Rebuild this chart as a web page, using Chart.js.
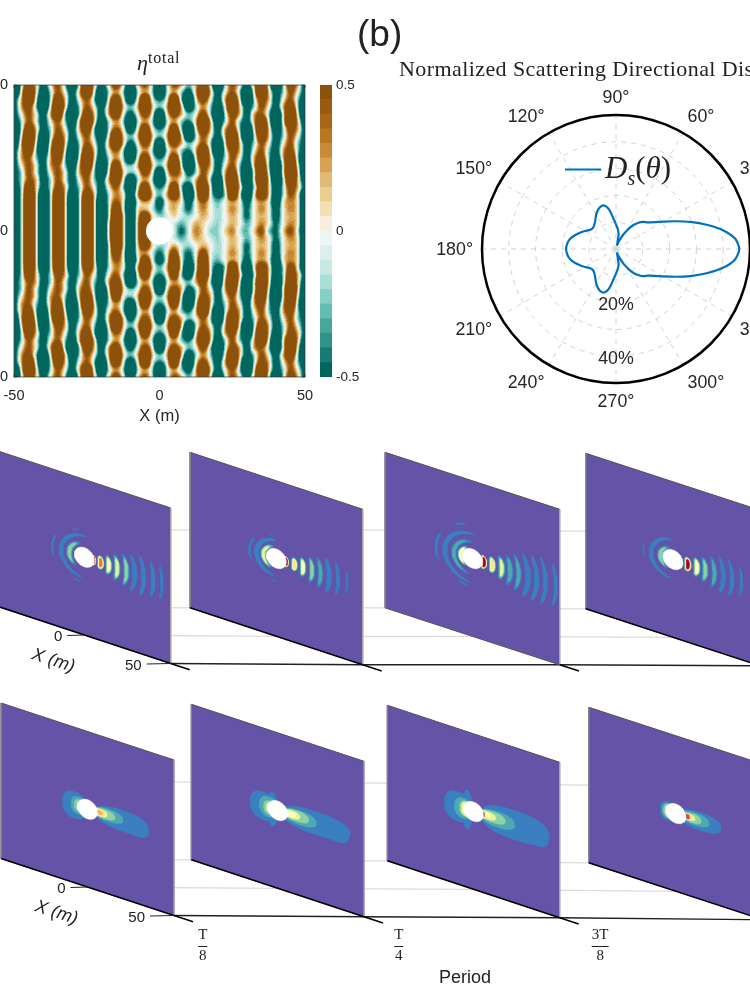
<!DOCTYPE html>
<html>
<head>
<meta charset="utf-8">
<title>Scattering</title>
<script src="https://cdn.jsdelivr.net/npm/chart.js@4/dist/chart.umd.js"></script>
<style>
html, body { margin: 0; background: #fff; }
#page { position: relative; width: 750px; height: 1000px; overflow: hidden; background: #fff; }
#page canvas { position: absolute; }
.t { position: absolute; white-space: nowrap; color: #222; }
</style>
</head>
<body>
<div id="page">
  <canvas id="heat" width="360" height="360" style="left:-40px;top:70px"></canvas>
  <canvas id="bar" width="60" height="320" style="left:310px;top:70px"></canvas>
  <canvas id="polar" width="440" height="400" style="left:396px;top:50px"></canvas>
  <canvas id="panels" width="750" height="570" style="left:0;top:430px"></canvas>
  <div class="t" style="left:357px;top:13px;font:37px 'Liberation Sans'">(b)</div>
  <div class="t" style="left:137px;top:50px;font:italic 22px 'Liberation Serif'">η<span style="font:normal 16px 'Liberation Serif';letter-spacing:.8px;position:relative;top:-7px">total</span></div>
  <div class="t" style="left:399px;top:56px;font:22px 'Liberation Serif';letter-spacing:.42px">Normalized Scattering Directional Distribution</div>
  <div class="t" style="left:605px;top:150px;font:italic 31px 'Liberation Serif'">D<sub style="font-size:20px;line-height:0">s</sub><span style="font-style:normal">(</span>θ<span style="font-style:normal">)</span></div>
  <div class="t" style="left:439px;top:967px;font:18px 'Liberation Sans'">Period</div>
</div>
<script>
// Campo de superficie: décimas de metro, filas de Y = 50 a Y = -50, columnas de X = -50 a X = 50 (paso 2.5 m).
const etaTenths = [
[-15,-2,10,2,-7,0,5,-2,-13,0,15,2,-7,0,7,0,-10,0,5,-2,-13,-2,5,2,-3,2,10,0,-15,-2,5,0,-7,2,15,0,-15,-2,7,2,-7],
[-15,0,15,2,-10,-2,5,0,-7,2,13,0,-13,-2,3,-2,-15,-2,3,-2,-15,-2,3,-2,-7,2,15,2,-7,0,5,-2,-15,0,15,2,-7,-2,5,0,-7],
[-7,2,13,0,-15,-2,10,2,-7,0,5,-2,-15,0,10,0,-10,0,13,0,-5,0,13,-2,-15,0,7,0,-7,2,13,0,-15,-2,7,2,-7,0,5,-2,-10],
[-7,2,7,-2,-13,0,15,2,-10,-2,5,0,-7,2,15,2,-3,2,15,2,-3,2,15,2,-10,-2,3,-2,-10,0,15,2,-7,-2,5,0,-7,2,10,-2,-15],
[-7,0,5,0,-7,2,13,-2,-15,-2,10,2,-7,2,10,0,-7,0,7,0,-13,0,7,2,-3,0,7,-2,-15,-2,7,2,-7,2,5,-2,-13,0,15,0,-15],
[-10,-2,5,0,-7,0,5,-2,-10,2,15,2,-10,-2,3,-2,-15,-2,3,-2,-15,-2,3,-2,-5,2,15,2,-10,-2,5,-2,-7,2,13,0,-15,0,13,2,-10],
[-15,-2,10,2,-7,-2,5,0,-7,2,10,-2,-15,-2,5,0,-10,0,10,0,-5,0,10,-2,-15,0,10,2,-7,2,7,-2,-15,0,15,2,-10,-2,7,2,-7],
[-15,0,15,2,-13,-2,7,2,-7,0,5,-2,-10,0,15,2,-3,2,15,2,-3,2,15,2,-13,-2,5,0,-7,2,15,0,-15,-2,10,2,-7,-2,5,0,-7],
[-13,2,15,0,-15,0,13,2,-10,-2,5,0,-7,2,13,2,-7,0,7,0,-13,0,7,2,-3,0,5,-2,-15,0,15,2,-7,-2,5,0,-7,0,5,-2,-7],
[-7,2,10,-2,-13,2,15,0,-15,-2,10,2,-7,0,5,-2,-15,-2,3,-2,-15,-2,3,-2,-5,2,13,0,-15,-2,7,2,-7,0,5,-2,-7,2,7,-2,-10],
[-7,2,5,-2,-7,2,10,-2,-15,0,15,2,-10,-2,3,-2,-13,0,10,0,-5,0,10,-2,-13,0,15,2,-7,-2,5,0,-7,2,7,-2,-10,2,13,-2,-15],
[-7,0,5,0,-7,2,5,-2,-10,2,13,0,-15,-2,10,0,-3,2,15,2,-3,2,15,0,-15,-2,7,2,-7,0,5,-2,-10,2,13,-2,-15,0,15,0,-15],
[-7,-2,5,0,-7,0,5,0,-7,2,7,-2,-13,0,15,2,-3,0,7,0,-13,0,7,2,-7,-2,5,0,-7,2,10,-2,-15,0,15,0,-15,0,15,2,-15],
[-7,-2,5,2,-7,-2,5,0,-7,0,5,-2,-7,2,10,0,-13,-2,3,-2,-15,-2,3,0,-3,2,7,-2,-13,2,15,0,-15,0,15,2,-13,-2,13,2,-10],
[-10,-2,10,2,-7,-2,7,2,-7,-2,5,0,-7,0,5,-2,-15,0,10,0,-5,0,10,-2,-10,2,13,0,-13,0,13,2,-10,-2,10,2,-10,-2,7,2,-7],
[-13,-2,13,2,-13,-2,13,2,-13,-2,10,2,-10,-2,3,0,-10,2,15,2,-3,2,10,0,-13,0,15,0,-7,-2,13,0,-13,0,10,2,-10,-2,5,0,-13],
[-13,-2,15,2,-15,-2,15,2,-15,-2,15,2,-15,-2,5,0,-13,-1,3,0,-7,0,3,0,-7,0,5,0,-3,0,3,0,-7,0,3,0,-10,0,3,0,-13],
[-13,-2,15,2,-15,-2,15,2,-15,-2,15,2,-15,-2,10,0,-13,0,2,-1,-5,0,2,-1,-5,0,3,0,-2,0,3,0,-5,0,3,0,-7,0,3,0,-13],
[-13,-2,15,2,-15,-2,15,2,-15,-2,15,2,-15,-2,15,2,-13,1,10,1,-2,-1,1,-1,-2,0,2,0,-2,0,2,0,-5,0,2,0,-7,0,2,0,-13],
[-13,-2,15,2,-15,-2,15,2,-15,-2,15,2,-15,0,15,2,-13,2,15,0,0,0,-1,-3,-1,2,1,-1,-2,0,2,0,-3,0,3,0,-5,0,3,0,-13],
[-13,-2,15,2,-15,-2,15,2,-15,-2,15,2,-15,0,15,2,-13,2,15,0,0,0,-1,-5,-1,3,1,-2,-2,1,3,-1,-3,1,5,-2,-5,1,5,-1,-13],
[-13,-2,15,2,-15,-2,15,2,-15,-2,15,2,-15,0,15,2,-13,2,15,0,0,0,-1,-3,-1,2,1,-1,-2,0,2,0,-3,0,3,0,-5,0,3,0,-13],
[-13,-2,15,2,-15,-2,15,2,-15,-2,15,2,-15,-2,15,2,-13,1,10,1,-2,-1,2,-1,-2,0,2,0,-2,0,2,0,-5,0,2,0,-7,0,2,0,-13],
[-13,-2,15,2,-15,-2,15,2,-15,-2,15,2,-15,-2,10,0,-13,0,3,-1,-5,0,7,-1,-5,0,7,0,-2,0,3,0,-5,0,3,0,-7,0,3,0,-13],
[-13,-2,15,2,-15,-2,15,2,-15,-2,15,2,-15,-2,5,0,-13,-1,10,0,-7,0,13,0,-7,0,13,0,-3,0,3,0,-7,0,3,0,-10,0,3,0,-13],
[-13,-2,13,2,-13,-2,13,2,-13,-2,10,2,-10,-2,3,0,-10,2,15,2,-3,2,13,0,-13,0,15,0,-7,-2,13,0,-13,0,10,2,-10,-2,7,0,-13],
[-10,-2,10,2,-7,-2,7,2,-7,-2,5,0,-7,0,5,-2,-15,0,10,0,-5,0,10,-2,-10,2,13,0,-13,0,13,2,-10,-2,13,2,-10,-2,10,2,-7],
[-7,-2,5,2,-7,-2,5,0,-7,0,5,-2,-7,2,10,0,-13,-2,3,-2,-15,-2,3,0,-3,2,7,-2,-13,2,15,0,-15,0,15,2,-13,-2,13,2,-10],
[-7,-2,5,0,-7,0,5,0,-7,2,7,-2,-13,0,15,2,-3,0,7,0,-13,0,7,2,-7,-2,5,0,-7,2,10,-2,-15,0,15,0,-15,0,15,2,-15],
[-7,0,5,0,-7,2,5,-2,-10,2,13,0,-15,-2,10,0,-3,2,15,2,-3,2,15,0,-15,-2,7,2,-7,0,5,-2,-10,2,13,-2,-15,0,15,0,-15],
[-7,2,5,-2,-7,2,10,-2,-15,0,15,2,-10,-2,3,-2,-13,0,10,0,-5,0,10,-2,-13,0,15,2,-7,-2,5,0,-7,2,7,-2,-10,2,13,-2,-15],
[-7,2,10,-2,-13,2,15,0,-15,-2,10,2,-7,0,5,-2,-15,-2,3,-2,-15,-2,3,-2,-5,2,13,0,-15,-2,7,2,-7,0,5,-2,-7,2,7,-2,-10],
[-13,2,15,0,-15,0,13,2,-10,-2,5,0,-7,2,13,2,-7,0,7,0,-13,0,7,2,-3,0,5,-2,-15,0,15,2,-7,-2,5,0,-7,0,5,-2,-7],
[-15,0,15,2,-13,-2,7,2,-7,0,5,-2,-10,0,15,2,-3,2,15,2,-3,2,15,2,-13,-2,5,0,-7,2,15,0,-15,-2,10,2,-7,-2,5,0,-7],
[-15,-2,10,2,-7,-2,5,0,-7,2,10,-2,-15,-2,5,0,-10,0,10,0,-5,0,10,-2,-15,0,10,2,-7,2,7,-2,-15,0,15,2,-10,-2,7,2,-7],
[-10,-2,5,0,-7,0,5,-2,-10,2,15,2,-10,-2,3,-2,-15,-2,3,-2,-15,-2,3,-2,-5,2,15,2,-10,-2,5,-2,-7,2,13,0,-15,0,13,2,-10],
[-7,0,5,0,-7,2,13,-2,-15,-2,10,2,-7,2,10,0,-7,0,7,0,-13,0,7,2,-3,0,7,-2,-15,-2,7,2,-7,2,5,-2,-13,0,15,0,-15],
[-7,2,7,-2,-13,0,15,2,-10,-2,5,0,-7,2,15,2,-3,2,15,2,-3,2,15,2,-10,-2,3,-2,-10,0,15,2,-7,-2,5,0,-7,2,10,-2,-15],
[-7,2,13,0,-15,-2,10,2,-7,0,5,-2,-15,0,10,0,-10,0,13,0,-5,0,13,-2,-15,0,7,0,-7,2,13,0,-15,-2,7,2,-7,0,5,-2,-10],
[-15,0,15,2,-10,-2,5,0,-7,2,13,0,-13,-2,3,-2,-15,-2,3,-2,-15,-2,3,-2,-7,2,15,2,-7,0,5,-2,-15,0,15,2,-7,-2,5,0,-7],
[-15,-2,10,2,-7,0,5,-2,-13,0,15,2,-7,0,7,0,-10,0,5,-2,-13,-2,5,2,-3,2,10,0,-15,-2,5,0,-7,2,15,0,-15,-2,7,2,-7]
];
const axisTicks = [-50, 0, 50];
const cylinderRadius = 4.65;

// Bandas de la barra de color, de -0.5 a 0.5.
const bandEdges = [-0.5,-0.45,-0.4,-0.35,-0.3,-0.25,-0.2,-0.15,-0.1,-0.05,0,0.05,0.1,0.15,0.2,0.25,0.3,0.35,0.4,0.45,0.5];
const bandColors = ['#01665E','#177D74','#2E9389','#47A79A','#64BDB0','#85D0C4','#A8DFD7','#C7E9E4','#DCEFED','#EFF4F4',
    '#F6EFDF','#F2E0B5','#E9CE90','#DFBB74','#D6A354','#C78A35','#B9771F','#A86616','#9A5B10','#8C510A'];
const barTicks = [-0.5, 0, 0.5];

// Distribución direccional en %, cada 5 grados, en sentido horario desde 90°.
const polarRadius = [9.2,7.5,5.6,1.6,2.9,5.2,7.8,10.6,12.7,14.3,15.5,17.5,20.5,24.5,29.5,35,40.5,44.6,46,
    44.6,40.5,35,29.5,24.5,20.5,17.5,15.5,14.3,12.7,10.6,7.8,5.2,2.9,1.6,5.6,7.5,9.2,
    11.5,15,16.8,16.8,16,14.8,13.4,12.4,11.8,11.7,12.3,13.4,14.6,15.8,17,17.9,18.4,18.6,
    18.4,17.9,17,15.8,14.6,13.4,12.3,11.7,11.8,12.4,13.4,14.8,16,16.8,16.8,15,11.5];
const polarAngles = [90,60,30,0,330,300,270,240,210,180,150,120];
const polarPercents = [20, 40];

// Frentes de onda por instante: [radio m, desde °, hasta °, nivel, semiancho m].
const ripplesT0 = [[5.8,-35,35,9,1],[9.6,-28,28,8,2],[14.3,-26,26,5,1.9],[19.2,-26,26,4,1.8],[24.5,-25,25,3,1.6],[29.3,-24,24,1,1.3],[34.5,-22,22,1,1.2],[40,-17,17,1,1.1],[45,-14,14,1,.8],
    [8.7,105,235,3,1.8],[13.5,85,265,1,1.2],[18.5,152,198,1,.6],[17,100,115,1,.4],[16.5,250,262,1,.4]];
const ripplesT1 = [[6,-35,35,10,1.3],[10.6,-25,25,6,2],[15.6,-24,24,5,1.8],[20.8,-24,24,3,1.6],[25.7,-23,23,2,1.4],[30.7,-22,22,1,1.3],[35.9,-17,17,1,1],[41,-10,10,1,.6],
    [7.5,100,250,4,1.7],[11.5,90,265,1,1.3],[15.5,145,205,1,.6],[15,95,105,1,.4],[15,258,270,1,.4]];
const ripplesT2 = [[7,-40,40,10,1.5],[11.6,-28,28,6,2],[17,-27,27,4,1.9],[21.8,-27,27,2,1.7],[26.6,-26,26,2,1.5],[32,-26,26,1,1.4],[36.9,-24,24,1,1.3],[42,-21,21,1,1.2],[47.9,-17,17,1,1],
    [6.8,110,240,5,1.6],[10.6,90,260,2,1.5],[15.8,85,265,1,1.3],[20.7,150,205,1,.7],[21,100,118,1,.6],[18.5,245,262,1,.6]];
const ripplesT3 = [[8.7,-32,32,10,2],[13.9,-27,27,5,2],[18.7,-26,26,3,1.7],[23.9,-25,25,2,1.5],[29,-24,24,1,1.3],[34,-20,20,1,1.1],[39.4,-14,14,1,.7],
    [7.3,105,245,3,1.7],[12.5,90,265,1,1.2],[17,165,195,1,.3]];

// Contornos medios por instante: [nivel, X, Y, radio X, radio Y].
const blobsT0 = [[1,20,0,15,6.8],[1,28,-1.5,7.5,5.5],[1,-7.5,0,7,8.5],[2,12,.5,8.5,4],[2,-5,.5,4.5,5.5],[3,10,.5,6,3],[3,-4.5,.5,3,4],[4,7.5,.5,4,2.4],[4,-4,.5,2,2.5],[6,7,.5,2.4,1.7],[7,7,.5,1.6,1.2]];
const blobsT1 = [[1,22,0,20,7.5],[1,34,-2,7,5.5],[1,-8,0,8,9],[1,-3,0,2.5,11],[2,13,0,9.5,4.5],[2,-5,.5,5.5,6.5],[3,11,.5,7,3.5],[3,-4.5,0,3.5,4.5],[4,8,.5,5,2.5],[4,-4.5,0,2,3],[5,7.5,.5,3,1.8]];
const blobsT2 = [[1,24,0,20,9.5],[1,37,-2,6.5,6.5],[1,-9,0,8,9.5],[1,-3.5,0,2.5,12.5],[2,14,0,10,5],[2,-6,0,5,6.5],[3,11,.5,7.5,3.5],[3,-4.5,0,3.5,5],[4,8,.5,5,2.5],[4,-4,0,3,4.5],[5,6.8,.5,3,1.5],[9,5.6,.3,1,1.5]];
const blobsT3 = [[1,14,0,12,5.8],[1,-4.5,0,4.5,6],[2,11,.5,8,4],[2,-4,0,4,5],[3,9.5,.5,5,3],[3,-4,0,3,4.5],[4,8,.5,3,2],[4,-4,0,2,3.5],[6,7,.5,1.8,1.8],[9,6.6,.5,1.2,1.4]];

const rippleRows = [ripplesT0, ripplesT1, ripplesT2, ripplesT3];
const blobRows = [blobsT0, blobsT1, blobsT2, blobsT3];
const spectral = ['#5E4FA2','#3A7FC0','#4FA9B0','#8ED1A5','#E6F598','#FFFFBF','#FEE08B','#FDAE61','#F46D43','#D53E4F','#9E0142'];

// Geometría de cada plano inclinado por fila y columna.
const planeLeft = [[-2,190,385,585.7],[1,191.3,387.3,588.7]];
const planeTop = [[451,452.3,452.3,453.3],[703,704.3,705.3,707.3]];
const planeWidth = [[172.7,172.7,174.7,174.5],[173,172.7,172.4,174.5]];
const planeShear = 57;
const planeHeight = 155.5;

const xTickValues = [0, 50];
const periodTop = ['T','T','3T'];
const periodBottom = ['8','4','8'];

Chart.defaults.font.family = "'Liberation Sans'";
Chart.defaults.color = '#262626';
Chart.defaults.animation = false;
Chart.defaults.devicePixelRatio = 1;
Chart.defaults.responsive = false;
Chart.defaults.plugins.legend.display = false;
Chart.defaults.plugins.tooltip.enabled = false;

/*
*   Interpolación Catmull-Rom para pintar el campo sin bloques.
*/
const cubic = (a, b, c, d, t) => b + 0.5 * t * (c - a + t * (2 * a - 5 * b + 4 * c - d + t * (3 * (b - c) + d - a)));
const cell = (r, c) => etaTenths[Math.max(0, Math.min(40, r))][Math.max(0, Math.min(40, c))] / 10;
const sampleEta = (x, y) => {
    const gx = (x + 50) / 2.5, gy = (50 - y) / 2.5;
    const i = Math.max(0, Math.min(39, Math.floor(gx))), j = Math.max(0, Math.min(39, Math.floor(gy)));
    const tx = gx - i, ty = gy - j;
    const rows = [-1, 0, 1, 2].map(dj => cubic(cell(j + dj, i - 1), cell(j + dj, i), cell(j + dj, i + 1), cell(j + dj, i + 2), tx));
    return cubic(rows[0], rows[1], rows[2], rows[3], ty);
};

// Mapa de superficie con sus contornos rellenos.
const heatPaint = {
    id: 'heatPaint',
    beforeDatasetsDraw(chart) {
        const { ctx, chartArea: a, scales: { x, y } } = chart;
        const w = Math.round(a.right - a.left), h = Math.round(a.bottom - a.top);
        const img = ctx.createImageData(w, h);
        const rgb = bandColors.map(c => [1, 3, 5].map(k => parseInt(c.substr(k, 2), 16)));
        for (let py = 0; py < h; py++) {
            const vy = y.getValueForPixel(a.top + py + 0.5);
            for (let px = 0; px < w; px++) {
                const v = sampleEta(x.getValueForPixel(a.left + px + 0.5), vy);
                const band = Math.max(0, Math.min(19, Math.floor((v + 0.5) / 0.05)));
                const o = (py * w + px) * 4;
                img.data[o] = rgb[band][0]; img.data[o + 1] = rgb[band][1]; img.data[o + 2] = rgb[band][2]; img.data[o + 3] = 255;
            }
        }
        ctx.putImageData(img, a.left, a.top);
        const cx = x.getPixelForValue(0), cy = y.getPixelForValue(0);
        ctx.fillStyle = '#fff';
        ctx.beginPath();
        ctx.arc(cx, cy, x.getPixelForValue(cylinderRadius) - cx, 0, Math.PI * 2);
        ctx.fill();
        ctx.strokeStyle = '#333';
        ctx.lineWidth = 0.7;
        ctx.strokeRect(a.left, a.top, w, h);
        ctx.beginPath();
        axisTicks.forEach(t => {
            const px = x.getPixelForValue(t), py = y.getPixelForValue(t);
            ctx.moveTo(px, a.bottom); ctx.lineTo(px, a.bottom - 3);
            ctx.moveTo(px, a.top); ctx.lineTo(px, a.top + 3);
            ctx.moveTo(a.left, py); ctx.lineTo(a.left + 3, py);
            ctx.moveTo(a.right, py); ctx.lineTo(a.right - 3, py);
        });
        ctx.stroke();
        // Etiquetas del eje Y, recortadas por el borde de la página.
        ctx.fillStyle = '#262626';
        ctx.font = "14.5px 'Liberation Sans'";
        ctx.textAlign = 'right';
        ctx.textBaseline = 'middle';
        axisTicks.forEach(t => ctx.fillText(String(t), a.left - 6, y.getPixelForValue(t)));
    }
};

new Chart(document.getElementById('heat'), {
    type: 'scatter',
    data: { datasets: [{ data: etaTenths.flatMap((row, j) => row.map((v, i) => ({ x: -50 + 2.5 * i, y: 50 - 2.5 * j, v }))), pointRadius: 0 }] },
    options: {
        layout: { padding: { top: 15, right: 15 } },
        scales: {
            x: {
                type: 'linear', min: -50, max: 50, grid: { display: false }, border: { display: false },
                afterBuildTicks: s => { s.ticks = axisTicks.map(value => ({ value })); },
                afterFit: s => { s.height = 53; },
                ticks: { font: { size: 14.5 }, maxRotation: 0, padding: 2 },
                title: { display: true, text: 'X (m)', font: { size: 16.5 }, padding: { top: 2 } }
            },
            y: {
                type: 'linear', min: -50, max: 50, grid: { display: false }, border: { display: false },
                afterBuildTicks: s => { s.ticks = axisTicks.map(value => ({ value })); },
                afterFit: s => { s.width = 54; },
                ticks: { display: false }
            }
        }
    },
    plugins: [heatPaint]
});

// Barra de color como barras flotantes apiladas en una sola categoría.
new Chart(document.getElementById('bar'), {
    type: 'bar',
    data: {
        labels: [''],
        datasets: bandColors.map((c, i) => ({
            data: [[bandEdges[i], bandEdges[i + 1]]], backgroundColor: c, borderWidth: 0,
            barPercentage: 1, categoryPercentage: 1, grouped: false
        }))
    },
    options: {
        layout: { padding: { left: 10, top: 15, bottom: 13 } },
        scales: {
            x: { display: false },
            y: {
                position: 'right', min: -0.5, max: 0.5,
                grid: { display: false, drawTicks: false }, border: { display: false },
                afterBuildTicks: s => { s.ticks = barTicks.map(value => ({ value })); },
                afterFit: s => { s.width = 38; },
                ticks: { font: { size: 13.5 }, padding: 4, callback: v => String(v) }
            }
        }
    }
});

// Anotaciones del diagrama polar: aro exterior, ángulos, porcentajes y leyenda.
const polarDecor = {
    id: 'polarDecor',
    afterDraw(chart) {
        const { ctx, scales: { r } } = chart;
        const cx = r.xCenter, cy = r.yCenter;
        ctx.save();
        ctx.strokeStyle = '#000';
        ctx.lineWidth = 2.5;
        ctx.beginPath();
        ctx.arc(cx, cy, r.getDistanceFromCenterForValue(50), 0, Math.PI * 2);
        ctx.stroke();
        ctx.font = "17.8px 'Liberation Sans'";
        ctx.fillStyle = '#262626';
        ctx.textBaseline = 'middle';
        const dist = r.getDistanceFromCenterForValue(50) + 9;
        polarAngles.forEach(deg => {
            const c = Math.cos(deg * Math.PI / 180), s = Math.sin(deg * Math.PI / 180);
            ctx.textAlign = Math.abs(c) < 0.01 ? 'center' : (c > 0 ? 'left' : 'right');
            ctx.fillText(deg + '°', cx + dist * c, cy - dist * s - (Math.abs(s) < 0.01 ? 0 : Math.sign(s) * 9) + 1);
        });
        ctx.textAlign = 'center';
        polarPercents.forEach(p => ctx.fillText(p + '%', cx, cy + r.getDistanceFromCenterForValue(p) + 2.5));
        ctx.strokeStyle = '#0072BD';
        ctx.lineWidth = 2;
        ctx.beginPath();
        ctx.moveTo(cx - 51, cy - 79.5);
        ctx.lineTo(cx - 15, cy - 79.5);
        ctx.stroke();
        ctx.restore();
    }
};

new Chart(document.getElementById('polar'), {
    type: 'radar',
    data: {
        labels: polarRadius.map((v, i) => (90 - 5 * i + 360) % 360),
        datasets: [{ data: polarRadius, borderColor: '#0072BD', borderWidth: 2.2, pointRadius: 0, fill: false, tension: 0.25 }]
    },
    options: {
        layout: { padding: { top: 65, bottom: 67 } },
        scales: {
            r: {
                min: 0, max: 50,
                ticks: { display: false, stepSize: 10 },
                pointLabels: { display: false },
                border: { dash: [5, 5] },
                grid: { circular: true, color: c => (c.tick && c.tick.value >= 50 ? 'transparent' : '#D2D2D2') },
                angleLines: { color: '#D2D2D2', borderDash: [5, 5], lineWidth: c => (c.index % 6 ? 0 : 1) }
            }
        }
    },
    plugins: [polarDecor]
});

/*
*   Proyección de un punto (X, Y) del plano de la fila y columna dadas a las escalas de la gráfica inferior.
*/
const project = (row, col, X, Y) => {
    const f = (X + 50) / 100, h = (50 - Y) / 100;
    return { x: planeLeft[row][col] + f * planeWidth[row][col], y: planeTop[row][col] + f * planeShear + h * planeHeight };
};
const lineSet = (data, color, width) => ({ data, showLine: true, pointRadius: 0, borderColor: color, borderWidth: width, fill: false, tension: 0 });
const shapeSet = (data, color) => ({ data, showLine: true, pointRadius: 0, borderColor: color, borderWidth: 0.4, backgroundColor: color, fill: 'shape', tension: 0 });

// Media luna de un frente de onda, con los niveles anidados hacia su centro.
const crescent = (row, col, [radius, from, to, level, half], k) => {
    const keep = 1 - 0.78 * (k - 1) / level;
    const mid = (from + to) / 2, span = (to - from) / 2 * (1 - 0.45 * (k - 1) / level);
    const n = 20, outer = [], inner = [];
    for (let i = 0; i <= n; i++) {
        const u = -1 + 2 * i / n, a = (mid + u * span) * Math.PI / 180;
        const t = half * keep * Math.pow(1 - u * u, 0.45);
        outer.push(project(row, col, (radius + t) * Math.cos(a), (radius + t) * Math.sin(a)));
        inner.unshift(project(row, col, (radius - t) * Math.cos(a), (radius - t) * Math.sin(a)));
    }
    return outer.concat(inner);
};
// Contorno redondeado, algo más lleno que una elipse.
const blobOutline = (row, col, cx, cy, rx, ry, power) => {
    const pts = [];
    for (let i = 0; i <= 40; i++) {
        const a = i / 40 * Math.PI * 2, c = Math.cos(a), s = Math.sin(a);
        pts.push(project(row, col, cx + rx * Math.sign(c) * Math.pow(Math.abs(c), power), cy + ry * Math.sign(s) * Math.pow(Math.abs(s), power)));
    }
    return pts;
};

const panelSets = [];
[0, 1].forEach(row => {
    // Líneas de rejilla del fondo y eje de periodo, unidas de plano a plano.
    [[-50, 0], [-50, -50], [0, -50]].forEach(([X, Y]) => {
        panelSets.push(lineSet([0, 1, 2, 3].map(c => project(row, c, X, Y)), '#DCDCDC', 1.3));
    });
    panelSets.push(lineSet([0, 1, 2, 3].map(c => project(row, c, 50, -50)), '#222', 1.4));
    [0, 1, 2, 3].forEach(col => {
        const corners = [project(row, col, -50, 50), project(row, col, 50, 50), project(row, col, 50, -50), project(row, col, -50, -50)];
        panelSets.push(shapeSet(corners.concat([corners[0]]), '#6553A8'));
        panelSets.push(lineSet([corners[0], corners[1]], '#555', 1));
        panelSets.push(lineSet([corners[1], corners[2]], '#AAA', 1.2));
        panelSets.push(lineSet([corners[0], corners[3]], '#888', 1));
        const gray = row === 0 && col === 2;
        panelSets.push(lineSet([corners[3], corners[2]], gray ? '#555' : '#000', gray ? 1 : 1.5));
        panelSets.push(lineSet([corners[2], project(row, col, 61, -50)], '#000', 1.5));
        if (row === 0) {
            rippleRows[col].forEach(rip => {
                for (let k = 1; k <= rip[3]; k++) panelSets.push(shapeSet(crescent(row, col, rip, k), spectral[k]));
            });
        } else {
            blobRows[col].forEach(([lvl, cx, cy, rx, ry]) => panelSets.push(shapeSet(blobOutline(row, col, cx, cy, rx, ry, 0.82), spectral[lvl])));
        }
        panelSets.push(shapeSet(blobOutline(row, col, 0, 0, 5.8, 6.2, 1), '#FFFFFF'));
    });
});

// Marcas y textos del eje X y del periodo.
const panelText = {
    id: 'panelText',
    afterDraw(chart) {
        const { ctx, scales: { x, y } } = chart;
        ctx.save();
        ctx.fillStyle = '#222';
        ctx.strokeStyle = '#222';
        [0, 1].forEach(row => {
            xTickValues.forEach(X => {
                const p = project(row, 0, X, -50);
                const px = x.getPixelForValue(p.x), py = y.getPixelForValue(p.y);
                const len = X === 0 ? 17 : 24;
                ctx.lineWidth = 1;
                ctx.beginPath();
                ctx.moveTo(px, py);
                ctx.lineTo(px - len, py + 0.5);
                ctx.stroke();
                ctx.font = "15px 'Liberation Sans'";
                ctx.textAlign = 'right';
                ctx.textBaseline = 'middle';
                ctx.fillText(String(X), px - len - 5, py + 2);
            });
            const mid = project(row, 0, -18, -50);
            ctx.save();
            ctx.translate(x.getPixelForValue(mid.x), y.getPixelForValue(mid.y) + 36);
            ctx.rotate(18 * Math.PI / 180);
            ctx.font = "italic 18px 'Liberation Sans'";
            ctx.textAlign = 'center';
            ctx.fillText('X (m)', 0, 0);
            ctx.restore();
        });
        periodTop.forEach((top, i) => {
            const cx = x.getPixelForValue(planeLeft[1][i + 1] + 11.5);
            const half = top.length > 1 ? 8.5 : 4.5;
            ctx.font = "15px 'Liberation Serif'";
            ctx.textAlign = 'center';
            ctx.textBaseline = 'middle';
            ctx.fillText(top, cx, y.getPixelForValue(935));
            ctx.fillText(periodBottom[i], cx, y.getPixelForValue(956));
            ctx.lineWidth = 1;
            ctx.beginPath();
            ctx.moveTo(cx - half, y.getPixelForValue(946.5));
            ctx.lineTo(cx + half, y.getPixelForValue(946.5));
            ctx.stroke();
        });
        ctx.restore();
    }
};

new Chart(document.getElementById('panels'), {
    type: 'scatter',
    data: { datasets: panelSets.slice().reverse() },
    options: {
        layout: { padding: 0 },
        scales: {
            x: { type: 'linear', min: 0, max: 750, display: false },
            y: { type: 'linear', min: 430, max: 1000, reverse: true, display: false }
        }
    },
    plugins: [panelText]
});
</script>
</body>
</html>
